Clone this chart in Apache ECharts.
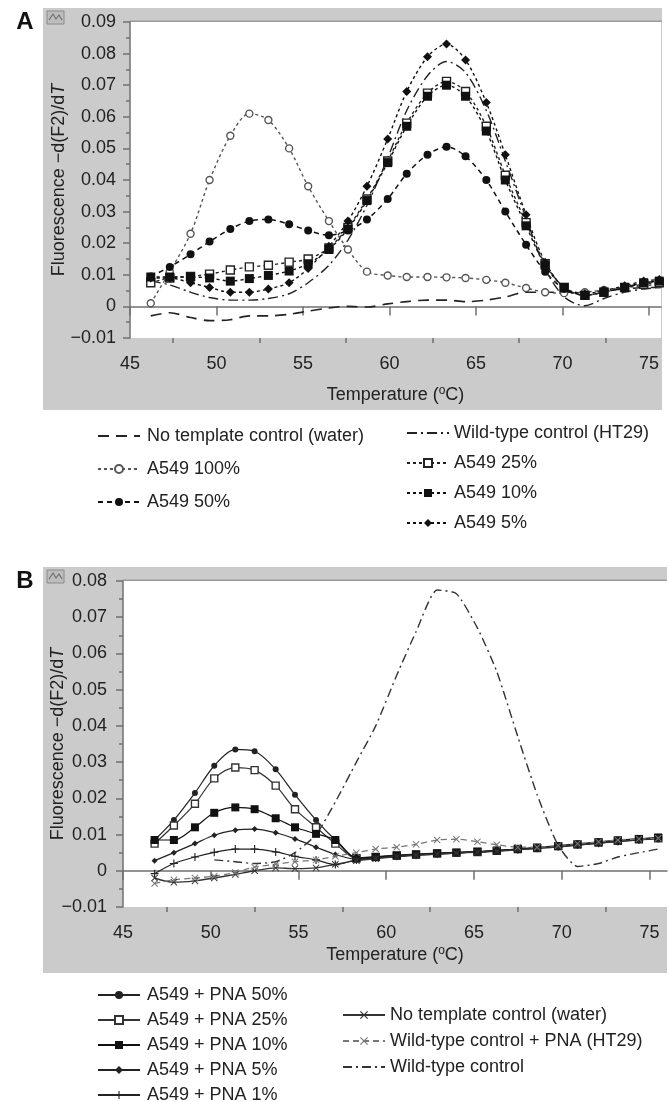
<!DOCTYPE html>
<html>
<head>
<meta charset="utf-8">
<script src="https://cdn.jsdelivr.net/npm/echarts@6/dist/echarts.min.js"></script>
<style>
html, body { margin: 0; padding: 0; background: #fff; overflow: hidden; }
#chartA { width: 669px; height: 560px; }
#chartB { width: 669px; height: 600px; }
</style>
</head>
<body>
<div id="chartA"></div>
<div id="chartB"></div>
<script>
// ---- panel A data (temperature in °C, -d(F2)/dT) ----
const tempA = [46.2, 47.3, 48.5, 49.6, 50.8, 51.9, 53.0, 54.2, 55.3, 56.5, 57.6, 58.7, 59.9, 61.0,
    62.2, 63.3, 64.4, 65.6, 66.7, 67.9, 69.0, 70.1, 71.3, 72.4, 73.6, 74.7, 75.6]
const noTemplateA = [-0.003, -0.002, -0.0035, -0.0045, -0.0042, -0.003, -0.003, -0.0025, -0.0015, -0.0005,
    0.0, -0.0002, 0.0008, 0.0015, 0.002, 0.002, 0.0015, 0.002, 0.003, 0.0045, 0.0045, 0.0045, 0.0045,
    0.005, 0.0055, 0.006, 0.006]
const wildTypeA = [0.008, 0.0068, 0.0045, 0.0028, 0.002, 0.002, 0.0025, 0.004, 0.0075, 0.013, 0.021,
    0.032, 0.047, 0.062, 0.073, 0.0775, 0.074, 0.062, 0.046, 0.028, 0.012, 0.003, 0.0002, 0.0025,
    0.0045, 0.0055, 0.006]
const a549_100 = [0.001, 0.011, 0.023, 0.040, 0.054, 0.061, 0.059, 0.050, 0.038, 0.027, 0.018, 0.011,
    0.0098, 0.0093, 0.0093, 0.0092, 0.009, 0.0084, 0.0075, 0.0058, 0.0045, 0.0042, 0.0045, 0.0052,
    0.006, 0.0065, 0.007]
const a549_50 = [0.0095, 0.0125, 0.0165, 0.0205, 0.0245, 0.027, 0.0275, 0.026, 0.024, 0.0225, 0.024,
    0.0275, 0.034, 0.042, 0.048, 0.0505, 0.0475, 0.040, 0.030, 0.0195, 0.011, 0.0055, 0.0035, 0.0045,
    0.006, 0.0075, 0.008]
const a549_25 = [0.0075, 0.009, 0.0095, 0.0102, 0.0115, 0.0125, 0.013, 0.014, 0.015, 0.0185, 0.025,
    0.034, 0.046, 0.058, 0.0675, 0.0712, 0.068, 0.057, 0.0415, 0.0265, 0.0135, 0.006, 0.0035, 0.0045,
    0.006, 0.007, 0.0075]
const a549_10 = [0.0093, 0.0093, 0.0093, 0.009, 0.008, 0.0088, 0.0098, 0.0112, 0.0135, 0.018, 0.0245,
    0.0335, 0.0455, 0.057, 0.0665, 0.070, 0.0665, 0.0555, 0.040, 0.0255, 0.013, 0.006, 0.0035, 0.0045,
    0.006, 0.0075, 0.008]
const a549_5 = [0.009, 0.009, 0.0075, 0.006, 0.0045, 0.0045, 0.0055, 0.0075, 0.012, 0.019, 0.027,
    0.038, 0.053, 0.068, 0.079, 0.083, 0.078, 0.0645, 0.048, 0.029, 0.014, 0.006, 0.004, 0.005,
    0.0065, 0.008, 0.0085]

// ---- panel B data ----
const tempB = [46.8, 47.9, 49.1, 50.2, 51.4, 52.5, 53.7, 54.8, 56.0, 57.1, 58.3, 59.4, 60.6, 61.7,
    62.9, 64.0, 65.2, 66.3, 67.5, 68.6, 69.8, 70.9, 72.1, 73.2, 74.4, 75.5]
const pna50 = [0.0085, 0.014, 0.0215, 0.029, 0.0335, 0.033, 0.028, 0.021, 0.014, 0.0085, 0.0036,
    0.0039, 0.0043, 0.0046, 0.0049, 0.0051, 0.0053, 0.0056, 0.006, 0.0064, 0.0069, 0.0074, 0.0079,
    0.0084, 0.0088, 0.0091]
const pna25 = [0.0075, 0.0125, 0.0185, 0.0255, 0.0285, 0.0278, 0.0235, 0.017, 0.012, 0.0075, 0.0034,
    0.0038, 0.0042, 0.0045, 0.0048, 0.005, 0.0052, 0.0055, 0.006, 0.0063, 0.0068, 0.0073, 0.0078,
    0.0083, 0.0087, 0.009]
const pna10 = [0.0085, 0.0085, 0.012, 0.016, 0.0175, 0.017, 0.0145, 0.012, 0.0102, 0.0085, 0.0035,
    0.0038, 0.0042, 0.0045, 0.0048, 0.005, 0.0053, 0.0056, 0.006, 0.0064, 0.0068, 0.0073, 0.0079,
    0.0084, 0.0088, 0.0092]
const pna5 = [0.0028, 0.005, 0.0075, 0.0098, 0.0112, 0.0115, 0.0105, 0.0088, 0.0065, 0.0045, 0.0032,
    0.0036, 0.004, 0.0044, 0.0047, 0.0049, 0.0052, 0.0055, 0.0059, 0.0063, 0.0067, 0.0072, 0.0077,
    0.0082, 0.0086, 0.009]
const pna1 = [-0.0008, 0.002, 0.0038, 0.0051, 0.006, 0.006, 0.0052, 0.004, 0.003, 0.0017, 0.003,
    0.0035, 0.004, 0.0043, 0.0046, 0.0049, 0.0052, 0.0055, 0.0058, 0.0062, 0.0066, 0.0071, 0.0076,
    0.0081, 0.0085, 0.0089]
const noTemplateB = [-0.002, -0.0032, -0.0028, -0.002, -0.001, 0.0, 0.0008, 0.0006, 0.0008, 0.0018,
    0.0028, 0.0034, 0.0039, 0.0043, 0.0046, 0.0049, 0.0051, 0.0054, 0.0058, 0.0062, 0.0066, 0.0071,
    0.0076, 0.0081, 0.0086, 0.009]
const wildTypePnaB = [-0.0035, -0.0025, -0.002, -0.0015, -0.0005, 0.001, 0.0018, 0.0025, 0.003, 0.004,
    0.005, 0.006, 0.0065, 0.0073, 0.0085, 0.0087, 0.008, 0.0072, 0.0065, 0.0065, 0.007, 0.0075, 0.008,
    0.0085, 0.0088, 0.009]
const wildTypeB = [null, null, null, 0.003, 0.0025, 0.002, 0.0025, 0.005, 0.010, 0.019, 0.030, 0.040,
    0.054, 0.066, 0.0775, 0.0765, 0.067, 0.055, 0.037, 0.021, 0.007, 0.0012, 0.002, 0.0038, 0.005, 0.006]

// ---- axis ticks ----
const xMajorTicks = [45, 50, 55, 60, 65, 70, 75]
const xMinorTicks = [47.5, 52.5, 57.5, 62.5, 67.5, 72.5]

const FONT = "'Liberation Sans', Arial, Helvetica, sans-serif"
const INK = '#222'
const AXIS = '#707070'
const PANEL = '#cbcbcb'
const plusPath = 'path://M4.3,0H5.7V4.3H10V5.7H5.7V10H4.3V5.7H0V4.3H4.3Z'
const crossPath = 'path://M1,0L5,4L9,0L10,1L6,5L10,9L9,10L5,6L1,10L0,9L4,5L0,1Z'

function pairs(temps, vals) {
    return temps.map((t, i) => [t, vals[i]]).filter(p => p[1] !== null)
}

function fmtY(v) {
    if (Math.abs(v) < 1e-9) return '0'
    return (v < 0 ? '\u2212' : '') + Math.abs(v).toFixed(2)
}

function line(name, temps, vals, opt) {
    const s = {
        name: name,
        type: 'line',
        data: pairs(temps, vals),
        smooth: opt.smooth !== undefined ? opt.smooth : 0.3,
        symbol: opt.symbol || 'none',
        symbolSize: opt.size || 6,
        showSymbol: !!opt.symbol,
        lineStyle: { color: opt.color || INK, width: opt.width || 1.4, type: opt.dash || 'solid' },
        itemStyle: {
            color: opt.fill || opt.color || INK,
            borderColor: opt.border || opt.color || INK,
            borderWidth: opt.border ? 1.4 : 0
        },
        z: opt.z || 2
    }
    // no markers: keep the legend sample a bare line
    if (!opt.symbol) s.itemStyle.opacity = 0
    return s
}

function xAxes(max, nameGap) {
    return [
        {
            type: 'value', min: 45, max: max, position: 'bottom',
            axisLine: { show: true, lineStyle: { color: AXIS, width: 1.5 } },
            axisTick: { show: true, length: 9, customValues: xMajorTicks, lineStyle: { color: AXIS, width: 1.5 } },
            axisLabel: { customValues: xMajorTicks, margin: 17, fontSize: 18, color: INK, fontFamily: FONT },
            splitLine: { show: false },
            name: '{a|Temperature (}{s|o}{a|C)}',
            nameLocation: 'middle',
            nameGap: nameGap,
            nameMoveOverlap: false,
            nameTextStyle: {
                fontFamily: FONT, color: INK, fontSize: 18,
                rich: {
                    a: { fontSize: 18, fontFamily: FONT, color: INK, lineHeight: 20 },
                    s: { fontSize: 12, fontFamily: FONT, color: INK, lineHeight: 12, verticalAlign: 'top' }
                }
            }
        },
        {
            type: 'value', min: 45, max: max, position: 'bottom',
            axisLine: { show: false },
            axisTick: { show: true, length: 5, customValues: xMinorTicks, lineStyle: { color: AXIS, width: 1.5 } },
            axisLabel: { show: false },
            splitLine: { show: false }
        }
    ]
}

function yAxis(max, labelMargin, nameGap) {
    return {
        type: 'value', min: -0.01, max: max, interval: 0.01,
        axisLine: { show: true, lineStyle: { color: AXIS, width: 1.5 } },
        axisTick: { show: true, length: 7, lineStyle: { color: AXIS, width: 1.5 } },
        minorTick: { show: true, splitNumber: 2, length: 4, lineStyle: { color: AXIS, width: 1.5 } },
        axisLabel: { formatter: fmtY, margin: labelMargin, fontSize: 18, color: INK, fontFamily: FONT },
        splitLine: { show: false },
        name: '{a|Fluorescence \u2212d(F2)/d}{i|T}',
        nameLocation: 'middle',
        nameGap: nameGap,
        nameMoveOverlap: false,
        nameTextStyle: {
            fontFamily: FONT, color: INK, fontSize: 18,
            rich: {
                a: { fontSize: 18, fontFamily: FONT, color: INK },
                i: { fontSize: 18, fontFamily: FONT, color: INK, fontStyle: 'italic' }
            }
        }
    }
}

function panelGraphics(letter, box, plot) {
    return [
        { type: 'rect', z: -10, silent: true, shape: box, style: { fill: PANEL } },
        { type: 'rect', z: -9, silent: true, shape: plot, style: { fill: '#fff' } },
        { type: 'rect', z: -8, silent: true,
          shape: { x: plot.x, y: plot.y - 1.5, width: box.x + box.width - plot.x, height: 1.5 },
          style: { fill: '#9a9a9a' } },
        { type: 'rect', z: -8, silent: true,
          shape: { x: box.x + 4, y: box.y + 3, width: 17, height: 13 },
          style: { fill: '#bdbdbd', stroke: '#8a8a8a', lineWidth: 1 } },
        { type: 'polyline', z: -7, silent: true,
          shape: { points: [[box.x + 6, box.y + 12], [box.x + 10, box.y + 6], [box.x + 13, box.y + 11],
                            [box.x + 16, box.y + 7], [box.x + 19, box.y + 12]] },
          style: { stroke: '#6f6f6f', lineWidth: 1.2, fill: null } },
        { type: 'text', z: 10, silent: true,
          style: { x: 25, y: box.y + 14, text: letter, font: 'bold 24px ' + FONT, fill: '#111',
                   align: 'center', verticalAlign: 'middle' } }
    ]
}

function legend(left, top, gap, names, padLeft) {
    return {
        orient: 'vertical', left: left, top: top, itemGap: gap,
        itemWidth: 42, itemHeight: 10, selectedMode: false,
        data: names,
        textStyle: { fontSize: 18, fontFamily: FONT, color: INK, lineHeight: 20, padding: [0, 0, 0, padLeft] }
    }
}

// ---- panel A ----
const chartA = echarts.init(document.getElementById('chartA'), null, { renderer: 'canvas' })
chartA.setOption({
    animation: false,
    grid: { left: 130, top: 22, right: 8, bottom: 222, outerBoundsMode: 'none' },
    graphic: panelGraphics('A', { x: 43, y: 8, width: 619, height: 402 }, { x: 130, y: 22, width: 531, height: 316 }),
    xAxis: xAxes(75.7, 47),
    yAxis: yAxis(0.09, 14, 62),
    legend: [
        legend(92, 421, 13, ['No template control (water)', 'A549 100%', 'A549 50%'], 2),
        legend(401, 418, 10, ['Wild-type control (HT29)', 'A549 25%', 'A549 10%', 'A549 5%'], 0)
    ],
    series: [
        line('No template control (water)', tempA, noTemplateA, { dash: [11, 7], width: 1.6 }),
        line('Wild-type control (HT29)', tempA, wildTypeA, { dash: [10, 4, 2, 4], width: 1.4 }),
        line('A549 100%', tempA, a549_100, { symbol: 'circle', size: 7, color: '#555', fill: '#fff', border: '#555', dash: [3, 3] }),
        line('A549 50%', tempA, a549_50, { symbol: 'circle', size: 8, color: '#111', dash: [5, 4], width: 1.5 }),
        line('A549 25%', tempA, a549_25, { symbol: 'rect', size: 8, color: '#222', fill: '#fff', border: '#222', dash: [3, 3] }),
        line('A549 10%', tempA, a549_10, { symbol: 'rect', size: 9, color: '#111', dash: [3, 3] }),
        line('A549 5%', tempA, a549_5, { symbol: 'diamond', size: 9, color: '#111', dash: [3, 3] })
    ]
})

// ---- panel B ----
const chartB = echarts.init(document.getElementById('chartB'), null, { renderer: 'canvas' })
chartB.setOption({
    animation: false,
    grid: { left: 123, top: 21, right: 2, bottom: 253, outerBoundsMode: 'none' },
    graphic: panelGraphics('B', { x: 43, y: 7, width: 624, height: 406 }, { x: 123, y: 21, width: 544, height: 326 }),
    xAxis: xAxes(76, 38),
    yAxis: yAxis(0.08, 16, 56),
    legend: [
        legend(92, 420, 5, ['A549 + PNA 50%', 'A549 + PNA 25%', 'A549 + PNA 10%', 'A549 + PNA 5%', 'A549 + PNA 1%'], 2),
        legend(337, 440, 6, ['No template control (water)', 'Wild-type control + PNA (HT29)', 'Wild-type control'], 0)
    ],
    series: [
        line('A549 + PNA 50%', tempB, pna50, { symbol: 'circle', size: 6, color: '#222', width: 1.2 }),
        line('A549 + PNA 25%', tempB, pna25, { symbol: 'rect', size: 7, color: '#333', fill: '#fff', border: '#333', width: 1.2 }),
        line('A549 + PNA 10%', tempB, pna10, { symbol: 'rect', size: 8, color: '#111', width: 1.2 }),
        line('A549 + PNA 5%', tempB, pna5, { symbol: 'diamond', size: 6, color: '#222', width: 1.2 }),
        line('A549 + PNA 1%', tempB, pna1, { symbol: plusPath, size: 8, color: '#222', width: 1.2 }),
        line('No template control (water)', tempB, noTemplateB, { symbol: crossPath, size: 7, color: '#333', width: 1.4 }),
        line('Wild-type control + PNA (HT29)', tempB, wildTypePnaB, { symbol: crossPath, size: 7, color: '#777', dash: [6, 4], width: 1.3 }),
        line('Wild-type control', tempB, wildTypeB, { dash: [9, 4, 2, 4], color: '#333', width: 1.4, smooth: 0.2 })
    ]
})
</script>
</body>
</html>
